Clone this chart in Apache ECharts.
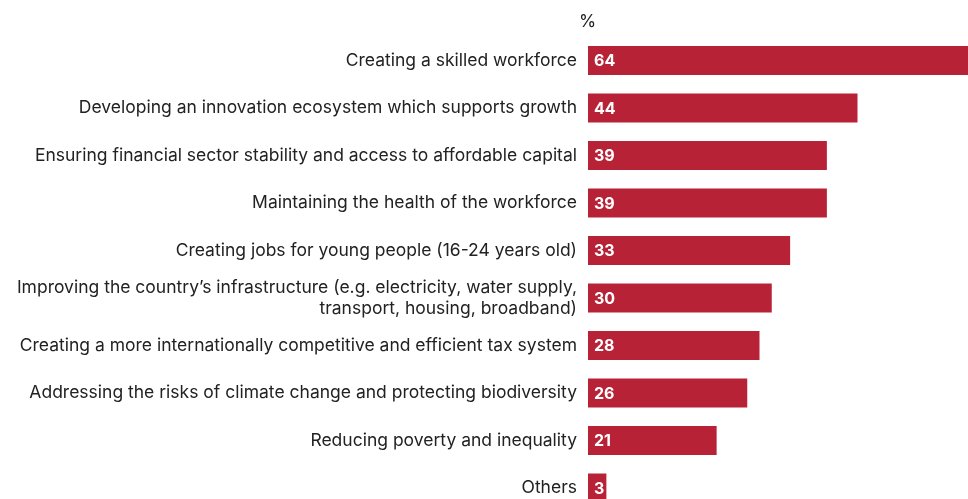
<!DOCTYPE html>
<html>
<head>
<meta charset="utf-8">
<script src="https://cdn.jsdelivr.net/npm/echarts@6/dist/echarts.min.js"></script>
<style>
  html, body { margin: 0; padding: 0; background: #fff; }
  #chart { width: 968px; height: 499px; }
</style>
</head>
<body>
<div id="chart"></div>
<script>
// Priorities, share of respondents (%)
const categories = [
  'Creating a skilled workforce',
  'Developing an innovation ecosystem which supports growth',
  'Ensuring financial sector stability and access to affordable capital',
  'Maintaining the health of the workforce',
  'Creating jobs for young people (16-24 years old)',
  'Improving the country\u2019s infrastructure (e.g. electricity, water supply,\ntransport, housing, broadband)',
  'Creating a more internationally competitive and efficient tax system',
  'Addressing the risks of climate change and protecting biodiversity',
  'Reducing poverty and inequality',
  'Others'
];
const values = [64, 44, 39, 39, 33, 30, 28, 26, 21, 3];
const unitLabel = '%';

const FONT = 'Inter, "Liberation Sans", Arial, sans-serif';
const chart = echarts.init(document.getElementById('chart'), null, { renderer: 'canvas' });

chart.setOption({
  animation: false,
  backgroundColor: '#ffffff',
  title: {
    text: unitLabel,
    left: 579,
    top: 13,
    padding: 0,
    textStyle: { fontFamily: FONT, fontSize: 17.5, fontWeight: 'normal', color: '#222' }
  },
  // plot area runs past the right and bottom edges, so the longest bar and the last row are cut off
  grid: {
    left: 588, top: 36.75, width: 392, height: 475,
    outerBoundsMode: 'none',
    containLabel: false
  },
  xAxis: {
    type: 'value',
    min: 0,
    max: 64,
    show: false
  },
  yAxis: {
    type: 'category',
    inverse: true,
    data: categories,
    axisLine: { show: false },
    axisTick: { show: false },
    splitLine: { show: false },
    axisLabel: {
      margin: 11,
      align: 'right',
      fontFamily: FONT,
      fontSize: 17.5,
      lineHeight: 21,
      color: '#222'
    }
  },
  series: [{
    type: 'bar',
    data: values,
    barWidth: 29,
    itemStyle: { color: '#B82236' },
    label: {
      show: true,
      position: 'insideLeft',
      offset: [1, 1],
      fontFamily: FONT,
      fontSize: 16,
      fontWeight: 'bold',
      color: '#ffffff'
    }
  }]
});
</script>
</body>
</html>
